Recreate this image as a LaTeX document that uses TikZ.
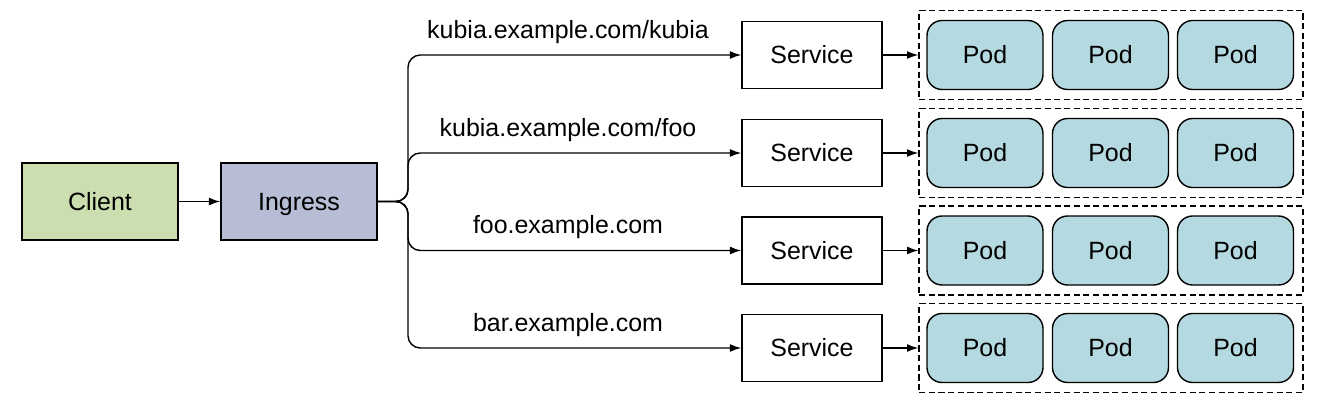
\documentclass[tikz,border=0pt]{standalone}
\usepackage{fontspec}
\setmainfont{Liberation Sans}
\usetikzlibrary{arrows.meta,positioning}

\definecolor{clientgreen}{RGB}{203,222,176}
\definecolor{ingressblue}{RGB}{183,189,213}
\definecolor{podblue}{RGB}{180,217,224}

\tikzset{
  every node/.style={text height=10.2pt,text depth=0pt},
  box/.style={draw,line width=0.8pt,minimum width=3.12cm,minimum height=1.54cm,inner sep=0pt},
  svcbox/.style={draw,line width=0.8pt,minimum width=2.8cm,minimum height=1.34cm,inner sep=0pt},
  podbox/.style={draw,line width=0.8pt,fill=podblue,rounded corners=0.3cm,minimum width=2.32cm,minimum height=1.38cm,inner sep=0pt},
  group/.style={draw,line width=0.7pt,dash pattern=on 3.5pt off 2pt,minimum width=7.68cm,minimum height=1.78cm,inner sep=0pt},
  link/.style={line width=0.8pt,-{Latex[length=6.5pt,width=4.5pt]}},
  lbl/.style={inner sep=0pt}
}

\begin{document}
\begin{tikzpicture}[x=0.02cm,y=-0.02cm,font=\fontsize{14.2}{17}\selectfont]
\useasboundingbox (0,0) rectangle (1330,410);

% Client and ingress
\node[box,fill=clientgreen] (client) at (100,201.5) {Client};
\node[box,fill=ingressblue] (ingress) at (299,201.5) {Ingress};
\draw[link] (client) -- (ingress);
\coordinate (trunk) at (408,201.5);

% One row per rule: service and its pods
\foreach \y/\host [count=\i] in {55/{kubia.example.com/kubia},153/{kubia.example.com/foo},250.5/{foo.example.com},348/{bar.example.com}} {
  \node[svcbox] (svc\i) at (812,\y) {Service};
  \node[group] (grp\i) at (1111,\y) {};
  \foreach \x [count=\j] in {985,1110.5,1235.5}
    \node[podbox] (pod\i\j) at (\x,\y) {Pod};
  \node[lbl] (host\i) at (568,\y-25.5) {\host};
  \draw[link,rounded corners=7pt] (ingress.east) -- (trunk) |- (svc\i.west);
  \draw[link] (svc\i) -- (grp\i);
}
\end{tikzpicture}
\end{document}
